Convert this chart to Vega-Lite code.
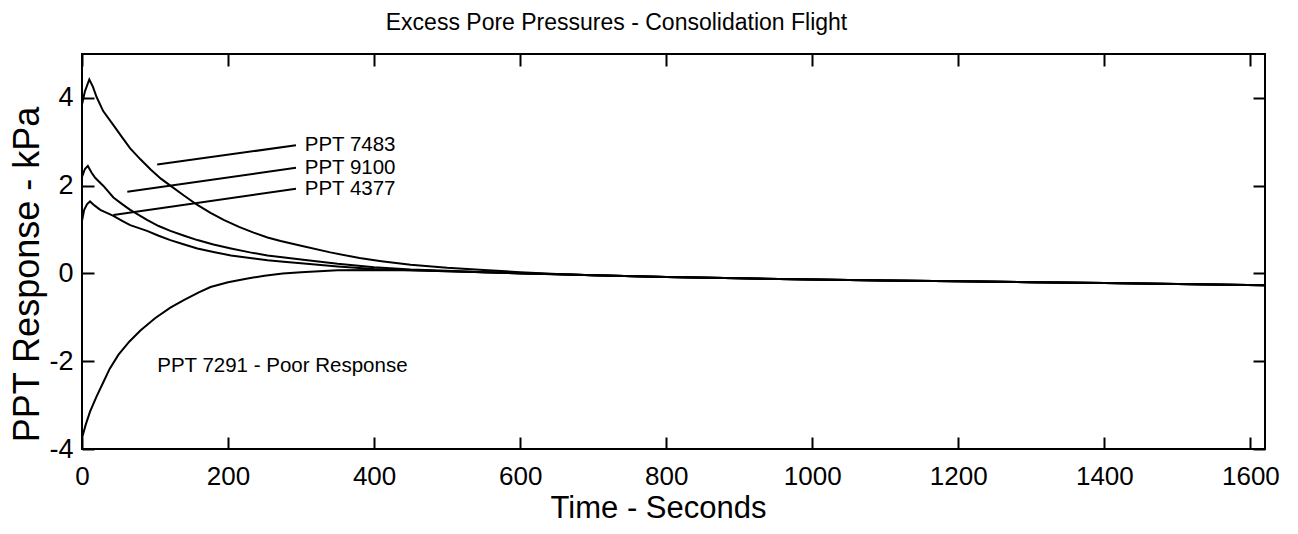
{
  "$schema": "https://vega.github.io/schema/vega-lite/v6.json",
  "width": 1183,
  "height": 395,
  "autosize": {"type": "none"},
  "padding": {"left": 82, "top": 54, "right": 33, "bottom": 85},
  "background": "white",
  "title": {"text": "Excess Pore Pressures - Consolidation Flight", "font": "Liberation Sans", "fontSize": 23, "fontWeight": "normal", "color": "black", "anchor": "middle", "dx": -57, "baseline": "alphabetic", "offset": 0},
  "config": {
    "view": {"stroke": "black", "strokeWidth": 2},
    "axis": {"labelFont": "Liberation Sans", "titleFont": "Liberation Sans", "labelColor": "black", "titleColor": "black", "tickColor": "black", "domain": false, "grid": false, "titleFontWeight": "normal", "tickWidth": 2}
  },
  "datasets": {
    "curves": [
      {"s": "7483", "t": 0, "v": 3.85}, {"s": "7483", "t": 4, "v": 4.15}, {"s": "7483", "t": 10, "v": 4.42}, {"s": "7483", "t": 15, "v": 4.25}, {"s": "7483", "t": 20, "v": 4.02}, {"s": "7483", "t": 29, "v": 3.7}, {"s": "7483", "t": 43, "v": 3.38}, {"s": "7483", "t": 55, "v": 3.1}, {"s": "7483", "t": 66, "v": 2.85}, {"s": "7483", "t": 80, "v": 2.6}, {"s": "7483", "t": 94, "v": 2.37}, {"s": "7483", "t": 108, "v": 2.16}, {"s": "7483", "t": 121, "v": 2.0}, {"s": "7483", "t": 140, "v": 1.77}, {"s": "7483", "t": 158, "v": 1.56}, {"s": "7483", "t": 176, "v": 1.38}, {"s": "7483", "t": 194, "v": 1.22}, {"s": "7483", "t": 215, "v": 1.06}, {"s": "7483", "t": 235, "v": 0.93}, {"s": "7483", "t": 254, "v": 0.82}, {"s": "7483", "t": 272, "v": 0.74}, {"s": "7483", "t": 300, "v": 0.63}, {"s": "7483", "t": 340, "v": 0.48}, {"s": "7483", "t": 380, "v": 0.35}, {"s": "7483", "t": 410, "v": 0.28}, {"s": "7483", "t": 450, "v": 0.2}, {"s": "7483", "t": 500, "v": 0.13}, {"s": "7483", "t": 550, "v": 0.08}, {"s": "7483", "t": 600, "v": 0.03}, {"s": "7483", "t": 650, "v": -0.01}, {"s": "7483", "t": 700, "v": -0.04}, {"s": "7483", "t": 800, "v": -0.08}, {"s": "7483", "t": 900, "v": -0.11}, {"s": "7483", "t": 1000, "v": -0.14}, {"s": "7483", "t": 1100, "v": -0.16}, {"s": "7483", "t": 1200, "v": -0.18}, {"s": "7483", "t": 1300, "v": -0.2}, {"s": "7483", "t": 1400, "v": -0.22}, {"s": "7483", "t": 1500, "v": -0.24}, {"s": "7483", "t": 1620, "v": -0.27},
      {"s": "9100", "t": 0, "v": 2.2}, {"s": "9100", "t": 4, "v": 2.38}, {"s": "9100", "t": 8, "v": 2.45}, {"s": "9100", "t": 13, "v": 2.3}, {"s": "9100", "t": 18, "v": 2.18}, {"s": "9100", "t": 29, "v": 2.0}, {"s": "9100", "t": 43, "v": 1.73}, {"s": "9100", "t": 55, "v": 1.58}, {"s": "9100", "t": 66, "v": 1.45}, {"s": "9100", "t": 89, "v": 1.22}, {"s": "9100", "t": 105, "v": 1.08}, {"s": "9100", "t": 121, "v": 0.97}, {"s": "9100", "t": 140, "v": 0.86}, {"s": "9100", "t": 158, "v": 0.76}, {"s": "9100", "t": 180, "v": 0.66}, {"s": "9100", "t": 204, "v": 0.57}, {"s": "9100", "t": 230, "v": 0.48}, {"s": "9100", "t": 254, "v": 0.41}, {"s": "9100", "t": 280, "v": 0.36}, {"s": "9100", "t": 300, "v": 0.32}, {"s": "9100", "t": 350, "v": 0.22}, {"s": "9100", "t": 400, "v": 0.14}, {"s": "9100", "t": 450, "v": 0.09}, {"s": "9100", "t": 500, "v": 0.06}, {"s": "9100", "t": 550, "v": 0.03}, {"s": "9100", "t": 600, "v": 0.01}, {"s": "9100", "t": 650, "v": -0.02}, {"s": "9100", "t": 700, "v": -0.04}, {"s": "9100", "t": 800, "v": -0.08}, {"s": "9100", "t": 900, "v": -0.11}, {"s": "9100", "t": 1000, "v": -0.14}, {"s": "9100", "t": 1100, "v": -0.16}, {"s": "9100", "t": 1200, "v": -0.18}, {"s": "9100", "t": 1300, "v": -0.2}, {"s": "9100", "t": 1400, "v": -0.22}, {"s": "9100", "t": 1500, "v": -0.24}, {"s": "9100", "t": 1620, "v": -0.27},
      {"s": "4377", "t": 0, "v": 1.2}, {"s": "4377", "t": 3, "v": 1.45}, {"s": "4377", "t": 7, "v": 1.58}, {"s": "4377", "t": 11, "v": 1.64}, {"s": "4377", "t": 17, "v": 1.55}, {"s": "4377", "t": 25, "v": 1.45}, {"s": "4377", "t": 34, "v": 1.38}, {"s": "4377", "t": 43, "v": 1.31}, {"s": "4377", "t": 55, "v": 1.2}, {"s": "4377", "t": 66, "v": 1.1}, {"s": "4377", "t": 89, "v": 0.97}, {"s": "4377", "t": 105, "v": 0.86}, {"s": "4377", "t": 121, "v": 0.76}, {"s": "4377", "t": 140, "v": 0.66}, {"s": "4377", "t": 158, "v": 0.57}, {"s": "4377", "t": 180, "v": 0.49}, {"s": "4377", "t": 204, "v": 0.41}, {"s": "4377", "t": 230, "v": 0.35}, {"s": "4377", "t": 254, "v": 0.3}, {"s": "4377", "t": 280, "v": 0.26}, {"s": "4377", "t": 300, "v": 0.23}, {"s": "4377", "t": 350, "v": 0.16}, {"s": "4377", "t": 400, "v": 0.1}, {"s": "4377", "t": 450, "v": 0.07}, {"s": "4377", "t": 500, "v": 0.05}, {"s": "4377", "t": 550, "v": 0.03}, {"s": "4377", "t": 600, "v": 0.0}, {"s": "4377", "t": 650, "v": -0.02}, {"s": "4377", "t": 700, "v": -0.04}, {"s": "4377", "t": 800, "v": -0.08}, {"s": "4377", "t": 900, "v": -0.11}, {"s": "4377", "t": 1000, "v": -0.14}, {"s": "4377", "t": 1100, "v": -0.16}, {"s": "4377", "t": 1200, "v": -0.18}, {"s": "4377", "t": 1300, "v": -0.2}, {"s": "4377", "t": 1400, "v": -0.22}, {"s": "4377", "t": 1500, "v": -0.24}, {"s": "4377", "t": 1620, "v": -0.27},
      {"s": "7291", "t": 0, "v": -3.75}, {"s": "7291", "t": 5, "v": -3.45}, {"s": "7291", "t": 11, "v": -3.15}, {"s": "7291", "t": 20, "v": -2.8}, {"s": "7291", "t": 30, "v": -2.45}, {"s": "7291", "t": 38, "v": -2.17}, {"s": "7291", "t": 50, "v": -1.85}, {"s": "7291", "t": 65, "v": -1.55}, {"s": "7291", "t": 80, "v": -1.3}, {"s": "7291", "t": 100, "v": -1.02}, {"s": "7291", "t": 121, "v": -0.78}, {"s": "7291", "t": 140, "v": -0.6}, {"s": "7291", "t": 160, "v": -0.43}, {"s": "7291", "t": 176, "v": -0.31}, {"s": "7291", "t": 200, "v": -0.2}, {"s": "7291", "t": 225, "v": -0.12}, {"s": "7291", "t": 250, "v": -0.05}, {"s": "7291", "t": 275, "v": 0.0}, {"s": "7291", "t": 300, "v": 0.03}, {"s": "7291", "t": 350, "v": 0.07}, {"s": "7291", "t": 400, "v": 0.08}, {"s": "7291", "t": 450, "v": 0.07}, {"s": "7291", "t": 500, "v": 0.05}, {"s": "7291", "t": 550, "v": 0.03}, {"s": "7291", "t": 600, "v": 0.0}, {"s": "7291", "t": 650, "v": -0.02}, {"s": "7291", "t": 700, "v": -0.04}, {"s": "7291", "t": 800, "v": -0.08}, {"s": "7291", "t": 900, "v": -0.11}, {"s": "7291", "t": 1000, "v": -0.14}, {"s": "7291", "t": 1100, "v": -0.16}, {"s": "7291", "t": 1200, "v": -0.18}, {"s": "7291", "t": 1300, "v": -0.2}, {"s": "7291", "t": 1400, "v": -0.22}, {"s": "7291", "t": 1500, "v": -0.24}, {"s": "7291", "t": 1620, "v": -0.27}
    ],
    "leaders": [
      {"t1": 103, "v1": 2.48, "t2": 293, "v2": 2.92},
      {"t1": 62, "v1": 1.86, "t2": 293, "v2": 2.41},
      {"t1": 43, "v1": 1.33, "t2": 293, "v2": 1.93}
    ],
    "labels": [
      {"label": "PPT 7483", "t": 305, "v": 2.92},
      {"label": "PPT 9100", "t": 305, "v": 2.41},
      {"label": "PPT 4377", "t": 305, "v": 1.93},
      {"label": "PPT 7291 - Poor Response", "t": 103, "v": -2.1}
    ]
  },
  "layer": [
    {
      "data": {"name": "curves"},
      "mark": {"type": "line", "color": "black", "strokeWidth": 2, "clip": true},
      "encoding": {
        "x": {"field": "t", "type": "quantitative", "scale": {"domain": [0, 1620], "nice": false, "zero": false},
              "axis": {"orient": "bottom", "title": "Time - Seconds", "values": [0, 200, 400, 600, 800, 1000, 1200, 1400, 1600], "tickSize": -12, "labelPadding": 26, "labelFontSize": 26, "labelExpr": "'' + datum.value", "titleFontSize": 31, "titleX": 576, "titleY": 68, "titleBaseline": "alphabetic", "titleAlign": "center", "labelFlush": false, "labelOverlap": false}},
        "y": {"field": "v", "type": "quantitative", "scale": {"domain": [-4, 5], "nice": false, "zero": false},
              "axis": {"orient": "left", "title": "PPT Response - kPa", "values": [-4, -2, 0, 2, 4], "tickSize": -12, "labelPadding": 21, "labelFontSize": 27, "titleFontSize": 36, "titleAngle": -90, "titleX": -44, "titleY": 220, "titleBaseline": "alphabetic", "titleAlign": "center", "labelExpr": "'' + datum.value", "labelFlush": false, "labelOverlap": false}},
        "detail": {"field": "s"}
      }
    },
    {
      "data": {"name": "leaders"},
      "mark": {"type": "rule", "color": "black", "strokeWidth": 2},
      "encoding": {
        "x": {"field": "t1", "type": "quantitative", "axis": {"orient": "top", "title": null, "labels": false, "values": [0, 200, 400, 600, 800, 1000, 1200, 1400, 1600], "tickSize": -12}},
        "y": {"field": "v1", "type": "quantitative", "axis": {"orient": "right", "title": null, "labels": false, "values": [-4, -2, 0, 2, 4], "tickSize": -12}},
        "x2": {"field": "t2"},
        "y2": {"field": "v2"}
      }
    },
    {
      "data": {"name": "labels"},
      "mark": {"type": "text", "align": "left", "baseline": "middle", "font": "Liberation Sans", "fontSize": 20.5, "color": "black"},
      "encoding": {
        "x": {"field": "t", "type": "quantitative", "axis": null},
        "y": {"field": "v", "type": "quantitative", "axis": null},
        "text": {"field": "label"}
      }
    }
  ],
  "resolve": {"axis": {"x": "independent", "y": "independent"}}
}
